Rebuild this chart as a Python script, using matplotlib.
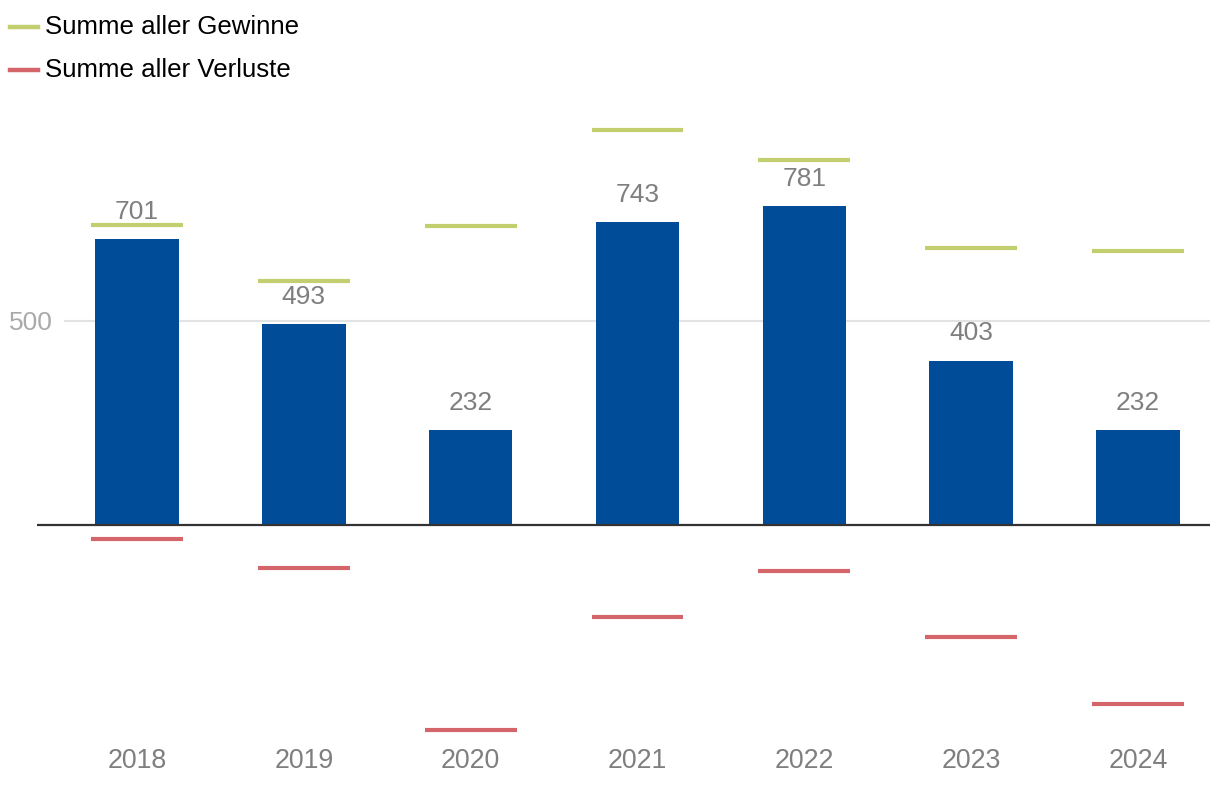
import matplotlib
matplotlib.use("Agg")
import matplotlib.pyplot as plt
from matplotlib.lines import Line2D
import matplotlib.transforms as mtransforms

plt.rcParams['font.family'] = ['Liberation Sans', 'DejaVu Sans']

years = ["2018", "2019", "2020", "2021", "2022", "2023", "2024"]
net = [701, 493, 232, 743, 781, 403, 232]
gains = [735, 598, 734, 968, 894, 678, 671]
losses = [-34, -105, -502, -225, -113, -275, -439]
yticks = [500]
legend_labels = ["Summe aller Gewinne", "Summe aller Verluste"]

bar_color = "#014c99"
gain_color = "#c3cf6e"
loss_color = "#d4666b"
label_color = "#7f7f7f"

fig = plt.figure(figsize=(12.2, 7.88), dpi=100)
W, H = 1220, 788
ax_left, ax_right, ax_top, ax_bottom = 37, 1210, 100, 740
ax = fig.add_axes([ax_left / W, 1 - ax_bottom / H, (ax_right - ax_left) / W, (ax_bottom - ax_top) / H])

x = list(range(len(years)))
px_per_unit = 166.83
ax.set_xlim(-(137 - ax_left) / px_per_unit, (ax_right - 137) / px_per_unit)
yscale = 0.408
ax.set_ylim(-(ax_bottom - 525) / yscale, (525 - ax_top) / yscale)

for t in yticks:
    ax.axhline(t, xmin=(65 - ax_left) / (ax_right - ax_left), xmax=1, color="#e3e3e3", lw=1.5, zorder=0)

ax.bar(x, net, width=0.5, color=bar_color, zorder=2)
ax.axhline(0, color="#333333", lw=1.6, zorder=3)

for xi, v in zip(x, net):
    ax.annotate(str(v), (xi, v), xytext=(0, 19.5), textcoords="offset points",
                ha="center", va="center", fontsize=19, color=label_color, zorder=4)

half = 0.275
ax.hlines(gains, [xi - half for xi in x], [xi + half for xi in x], colors=gain_color, lw=3, zorder=5)
ax.hlines(losses, [xi - half for xi in x], [xi + half for xi in x], colors=loss_color, lw=3, zorder=5)

ax.set_xticks(x)
ax.set_xticklabels(years, fontsize=19.3, color=label_color)
ax.tick_params(axis="x", length=0, pad=6)
ax.set_yticks(yticks)
ax.set_yticklabels([str(t) for t in yticks], fontsize=19, color="#aaaaaa")
ax.tick_params(axis="y", length=0, pad=0)
offset = mtransforms.ScaledTranslation(-(ax_left - 9) / 100, 0, fig.dpi_scale_trans)
for lbl in ax.get_yticklabels():
    lbl.set_horizontalalignment("left")
    lbl.set_transform(ax.get_yaxis_transform() + offset)
for s in ax.spines.values():
    s.set_visible(False)

# legend drawn manually at pixel positions
for i, (lab, col) in enumerate(zip(legend_labels, [gain_color, loss_color])):
    yp = 1 - (27 + 43 * i) / H
    fig.add_artist(Line2D([10 / W, 38 / W], [yp, yp], color=col, lw=3.2, transform=fig.transFigure))
    fig.text(45 / W, yp, lab, fontsize=18.6, color="black", ha="left", va="center")

fig.savefig("out.png", dpi=100)
